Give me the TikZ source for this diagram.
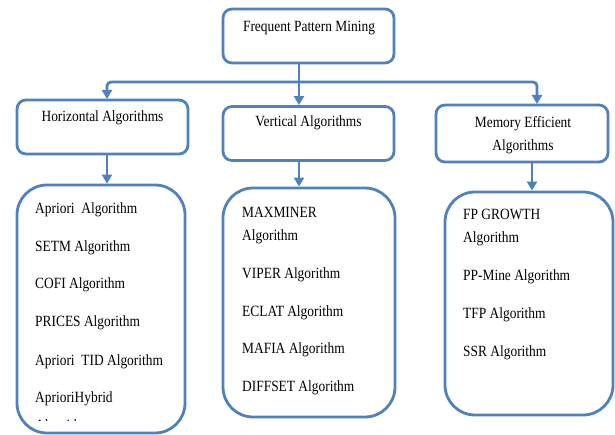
\documentclass[tikz,border=0pt]{standalone}
\usepackage{fontspec}
\setmainfont{Liberation Serif}
\newfontfamily\diagfont[FakeStretch=0.86]{Liberation Serif}
\usetikzlibrary{arrows.meta}
\definecolor{ofblue}{HTML}{4F81BD}
\begin{document}
\begin{tikzpicture}[x=1pt,y=-1pt,
  box/.style={draw=ofblue, line width=2.8pt, rounded corners=9pt, fill=white,
    inner sep=0pt, minimum width=171pt, minimum height=54pt},
  listbox/.style={draw=ofblue, line width=2.8pt, rounded corners=30pt,
    inner sep=0pt},
  conn/.style={draw=ofblue, line width=2.8pt, rounded corners=4pt},
  arr/.style={conn, -{Triangle[width=10pt,length=9pt]}},
  lbl/.style={font=\diagfont\fontsize{15.6}{23}\selectfont, inner sep=0pt, align=center},
  item/.style={font=\diagfont\fontsize{15.6}{23}\selectfont, inner sep=0pt, anchor=west, align=left},
]
\useasboundingbox (0,0) rectangle (615,435);

% category boxes
\node[box] (fpm) at (308.5,36) {};
\node[lbl] (fpmtxt) at (309,28) {Frequent Pattern Mining};

\node[box] (hor) at (102.5,127) {};
\node[lbl] (hortxt) at (102.5,118) {Horizontal Algorithms};

\node[box] (ver) at (308.5,133.5) {};
\node[lbl] (vertxt) at (308.5,123) {Vertical Algorithms};

\node[box, minimum width=172pt, minimum height=57pt] (mem) at (522,133.5) {};
\node[lbl] (memtxt) at (523,135) {Memory Efficient\\Algorithms};

% algorithm lists
\node[listbox, minimum width=168pt, minimum height=248pt] (horlist) at (101,309) {};
\node[listbox, minimum width=172pt, minimum height=229pt] (verlist) at (309,302.5) {};
\node[listbox, minimum width=168pt, minimum height=223pt] (memlist) at (529,303.5) {};

% connectors
\coordinate (split) at (299,82);
\draw[conn] (fpm.south -| split) -- (split);
\draw[arr] (split) -- (ver.north -| split);
\draw[arr] (split) -| (107,99);
\draw[arr] (split) -| (537,104);
\draw[arr] (hor.south -| 107,0) -- (horlist.north -| 107,0);
\draw[arr] (ver.south -| 299,0) -- (verlist.north -| 299,0);
\draw[arr] (mem.south -| 532,0) -- (memlist.north -| 532,0);

% horizontal algorithms
\node[item] (h1) at (35,210) {Apriori\ \ Algorithm};
\node[item] (h2) at (35,248) {SETM Algorithm};
\node[item] (h3) at (35,285) {COFI Algorithm};
\node[item] (h4) at (35,323) {PRICES Algorithm};
\node[item] (h5) at (35,362) {Apriori\ \ TID Algorithm};
\node[item] (h6) at (35,399) {AprioriHybrid};
\begin{scope}
  \clip (20,380) rectangle (180,420);
  \node[item] (h7) at (35,427) {Algorithm};
\end{scope}

% vertical algorithms
\node[item] (v1) at (242,225.5) {MAXMINER\\Algorithm};
\node[item] (v2) at (242,275) {VIPER Algorithm};
\node[item] (v3) at (242,313) {ECLAT Algorithm};
\node[item] (v4) at (242,350) {MAFIA Algorithm};
\node[item] (v5) at (242,388) {DIFFSET Algorithm};

% memory efficient algorithms
\node[item] (m1) at (463,228) {FP GROWTH\\Algorithm};
\node[item] (m2) at (463,277) {PP-Mine Algorithm};
\node[item] (m3) at (463,315) {TFP Algorithm};
\node[item] (m4) at (463,353) {SSR Algorithm};
\end{tikzpicture}
\end{document}
